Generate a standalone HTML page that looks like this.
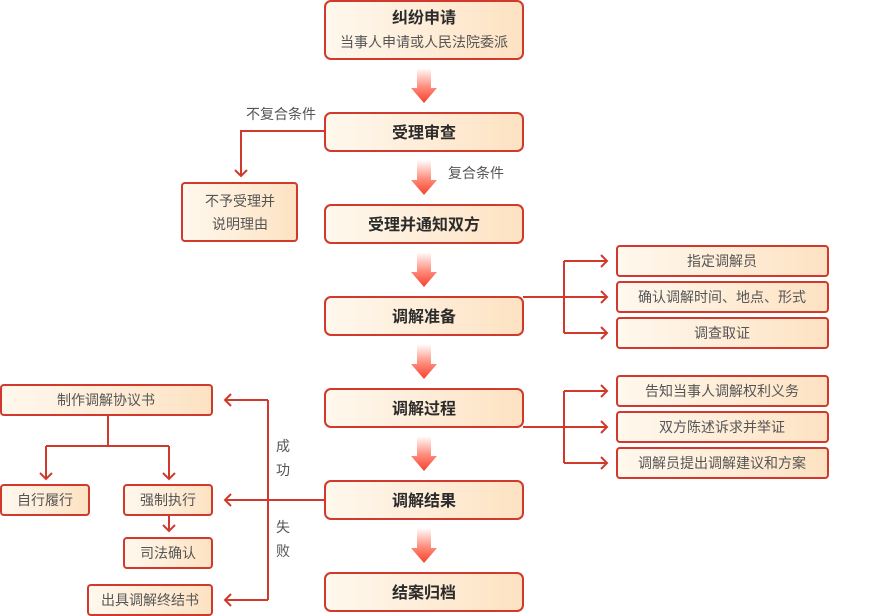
<!DOCTYPE html>
<html><head><meta charset="utf-8"><style>
html,body{margin:0;padding:0;background:#fff;}
svg{display:block;}
text{font-family:"Liberation Sans","Noto Sans CJK SC",sans-serif;}
.t{font-size:16px;font-weight:bold;fill:#2b2b2b;text-anchor:middle;}
.s{font-size:14px;fill:#555;text-anchor:middle;}
.l{font-size:14px;fill:#555;}
.b{fill:url(#bg);stroke:#d0392b;stroke-width:2;}
.c{fill:none;stroke:#d0392b;stroke-width:2;}
</style></head><body>
<svg width="890" height="616" viewBox="0 0 890 616" xmlns="http://www.w3.org/2000/svg">
<defs>
<linearGradient id="bg" x1="0" y1="0" x2="1" y2="0">
<stop offset="0" stop-color="#fff8ee"/><stop offset="1" stop-color="#fde2c2"/>
</linearGradient>
<linearGradient id="ar" x1="0" y1="0" x2="0" y2="1">
<stop offset="0" stop-color="#ffffff"/><stop offset="0.55" stop-color="#ff8a7a"/><stop offset="1" stop-color="#f4412c"/>
</linearGradient>
<g id="arr"><path d="M417 0 H431 V20 H437 L424 35 L411 20 H417 Z" fill="url(#ar)"/></g>
</defs>

<rect class="b" x="325" y="1" width="198" height="58" rx="6"/>
<text class="t" x="424" y="23">纠纷申请</text>
<text class="s" x="424" y="47">当事人申请或人民法院委派</text>
<rect class="b" x="325" y="113" width="198" height="38" rx="6"/>
<text class="t" x="424" y="138">受理审查</text>
<rect class="b" x="325" y="205" width="198" height="38" rx="6"/>
<text class="t" x="424" y="230">受理并通知双方</text>
<rect class="b" x="325" y="297" width="198" height="38" rx="6"/>
<text class="t" x="424" y="322">调解准备</text>
<rect class="b" x="325" y="389" width="198" height="38" rx="6"/>
<text class="t" x="424" y="414">调解过程</text>
<rect class="b" x="325" y="481" width="198" height="38" rx="6"/>
<text class="t" x="424" y="506">调解结果</text>
<rect class="b" x="325" y="573" width="198" height="38" rx="6"/>
<text class="t" x="424" y="598">结案归档</text>

<use href="#arr" y="68"/><use href="#arr" y="160"/><use href="#arr" y="252"/>
<use href="#arr" y="344"/><use href="#arr" y="436"/><use href="#arr" y="528"/>

<text class="l" x="246" y="119">不复合条件</text>
<text class="l" x="448" y="178">复合条件</text>
<path class="c" d="M325 131 H241 V176 M235 170 L241 176 L247 170"/>
<rect class="b" x="182" y="183" width="115" height="58" rx="3"/>
<text class="s" x="240" y="206">不予受理并</text>
<text class="s" x="240" y="229">说明理由</text>

<path class="c" d="M523 297 H607 M564 261 V333 M564 261 H607 M564 333 H607 M601 255 L607 261 L601 267 M601 291 L607 297 L601 303 M601 327 L607 333 L601 339"/>
<path class="c" d="M523 427 H607 M564 391 V463 M564 391 H607 M564 463 H607 M601 385 L607 391 L601 397 M601 421 L607 427 L601 433 M601 457 L607 463 L601 469"/>
<rect class="b" x="617" y="246" width="211" height="30" rx="3"/>
<text class="s" x="722" y="266">指定调解员</text>
<rect class="b" x="617" y="282" width="211" height="30" rx="3"/>
<text class="s" x="722" y="302">确认调解时间、地点、形式</text>
<rect class="b" x="617" y="318" width="211" height="30" rx="3"/>
<text class="s" x="722" y="338">调查取证</text>
<rect class="b" x="617" y="376" width="211" height="30" rx="3"/>
<text class="s" x="722" y="396">告知当事人调解权利义务</text>
<rect class="b" x="617" y="412" width="211" height="30" rx="3"/>
<text class="s" x="722" y="432">双方陈述诉求并举证</text>
<rect class="b" x="617" y="448" width="211" height="30" rx="3"/>
<text class="s" x="722" y="468">调解员提出调解建议和方案</text>

<path class="c" d="M325 500 H225 M268 400 V600 M268 400 H225 M268 600 H225 M231 394 L225 400 L231 406 M231 494 L225 500 L231 506 M231 594 L225 600 L231 606"/>
<text class="l" x="276" y="451">成</text>
<text class="l" x="276" y="475">功</text>
<text class="l" x="276" y="532">失</text>
<text class="l" x="276" y="556">败</text>

<rect class="b" x="1" y="385" width="211" height="30" rx="3"/>
<text class="s" x="106" y="405">制作调解协议书</text>
<path class="c" d="M108 415 V446 M46 446 H169 M46 446 V479 M169 446 V479 M40 473 L46 479 L52 473 M163 473 L169 479 L175 473 M169 515 V531 M163 525 L169 531 L175 525"/>
<rect class="b" x="1" y="485" width="88" height="30" rx="3"/>
<text class="s" x="45" y="505">自行履行</text>
<rect class="b" x="124" y="485" width="88" height="30" rx="3"/>
<text class="s" x="168" y="505">强制执行</text>
<rect class="b" x="124" y="538" width="88" height="30" rx="3"/>
<text class="s" x="168" y="558">司法确认</text>
<rect class="b" x="88" y="585" width="124" height="30" rx="3"/>
<text class="s" x="150" y="605">出具调解终结书</text>
</svg>
</body></html>
